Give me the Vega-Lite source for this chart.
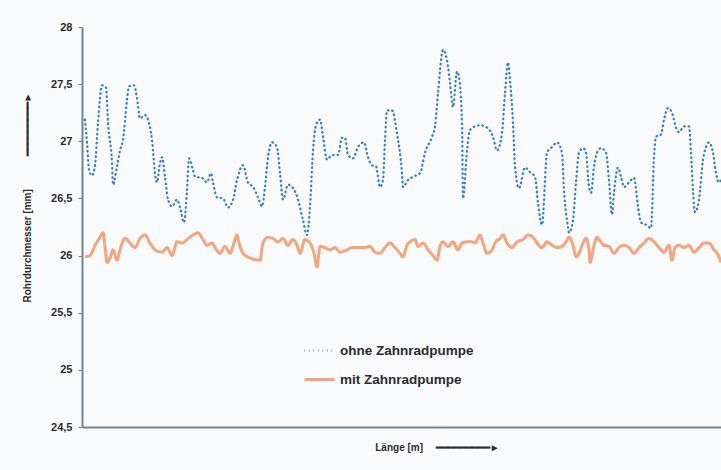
{
  "$schema": "https://vega.github.io/schema/vega-lite/v6.json",
  "width": 639,
  "height": 400,
  "autosize": {"type": "none"},
  "padding": {"left": 82, "top": 27, "right": 0, "bottom": 43},
  "background": "#fafbfd",
  "config": {
    "view": {"stroke": null},
    "font": "Liberation Sans"
  },
  "datasets": {
    "ohne": [
      {"x":3,"d":27.19},{"x":5,"d":26.99},{"x":7,"d":26.75},{"x":10,"d":26.70},{"x":13,"d":26.79},{"x":16,"d":27.16},{"x":20,"d":27.49},{"x":24,"d":27.47},{"x":26,"d":27.16},{"x":30,"d":26.81},{"x":31,"d":26.62},{"x":35,"d":26.78},{"x":38,"d":26.92},{"x":41,"d":27.01},{"x":45,"d":27.36},{"x":47,"d":27.48},{"x":52,"d":27.49},{"x":55,"d":27.38},{"x":58,"d":27.20},{"x":63,"d":27.23},{"x":66,"d":27.19},{"x":70,"d":27.01},{"x":73,"d":26.72},{"x":75,"d":26.64},{"x":78,"d":26.81},{"x":80,"d":26.86},{"x":83,"d":26.69},{"x":86,"d":26.49},{"x":90,"d":26.43},{"x":95,"d":26.49},{"x":98,"d":26.42},{"x":102,"d":26.29},{"x":105,"d":26.57},{"x":107,"d":26.85},{"x":111,"d":26.75},{"x":113,"d":26.69},{"x":120,"d":26.68},{"x":125,"d":26.64},{"x":129,"d":26.72},{"x":131,"d":26.64},{"x":135,"d":26.51},{"x":141,"d":26.50},{"x":146,"d":26.42},{"x":151,"d":26.49},{"x":155,"d":26.66},{"x":161,"d":26.79},{"x":166,"d":26.64},{"x":171,"d":26.60},{"x":176,"d":26.51},{"x":180,"d":26.43},{"x":183,"d":26.60},{"x":186,"d":26.86},{"x":190,"d":26.99},{"x":195,"d":26.95},{"x":198,"d":26.72},{"x":201,"d":26.49},{"x":206,"d":26.62},{"x":211,"d":26.59},{"x":216,"d":26.49},{"x":221,"d":26.31},{"x":225,"d":26.18},{"x":228,"d":26.43},{"x":231,"d":26.92},{"x":234,"d":27.14},{"x":238,"d":27.19},{"x":241,"d":27.04},{"x":245,"d":26.84},{"x":250,"d":26.88},{"x":256,"d":26.88},{"x":260,"d":27.03},{"x":263,"d":27.03},{"x":266,"d":26.88},{"x":271,"d":26.85},{"x":276,"d":26.95},{"x":282,"d":26.99},{"x":286,"d":26.86},{"x":290,"d":26.79},{"x":294,"d":26.78},{"x":298,"d":26.60},{"x":301,"d":26.66},{"x":303,"d":27.01},{"x":305,"d":27.27},{"x":310,"d":27.27},{"x":315,"d":27.07},{"x":320,"d":26.72},{"x":321,"d":26.60},{"x":326,"d":26.66},{"x":331,"d":26.69},{"x":338,"d":26.72},{"x":343,"d":26.90},{"x":350,"d":27.04},{"x":353,"d":27.13},{"x":356,"d":27.42},{"x":361,"d":27.80},{"x":365,"d":27.71},{"x":368,"d":27.51},{"x":371,"d":27.30},{"x":375,"d":27.61},{"x":377,"d":27.56},{"x":380,"d":27.16},{"x":381,"d":26.50},{"x":385,"d":26.92},{"x":388,"d":27.10},{"x":398,"d":27.14},{"x":405,"d":27.12},{"x":411,"d":27.04},{"x":415,"d":26.92},{"x":420,"d":27.07},{"x":423,"d":27.42},{"x":426,"d":27.69},{"x":428,"d":27.54},{"x":431,"d":27.16},{"x":433,"d":26.78},{"x":437,"d":26.59},{"x":443,"d":26.77},{"x":448,"d":26.73},{"x":453,"d":26.69},{"x":456,"d":26.46},{"x":460,"d":26.27},{"x":465,"d":26.90},{"x":470,"d":26.95},{"x":475,"d":26.99},{"x":480,"d":26.90},{"x":482,"d":26.57},{"x":486,"d":26.25},{"x":487,"d":26.20},{"x":491,"d":26.31},{"x":494,"d":26.64},{"x":497,"d":26.90},{"x":501,"d":26.94},{"x":504,"d":26.90},{"x":507,"d":26.60},{"x":509,"d":26.55},{"x":512,"d":26.78},{"x":515,"d":26.90},{"x":519,"d":26.94},{"x":524,"d":26.90},{"x":527,"d":26.66},{"x":530,"d":26.36},{"x":532,"d":26.55},{"x":536,"d":26.77},{"x":539,"d":26.69},{"x":542,"d":26.60},{"x":547,"d":26.64},{"x":552,"d":26.68},{"x":556,"d":26.43},{"x":559,"d":26.29},{"x":564,"d":26.27},{"x":569,"d":26.24},{"x":572,"d":26.86},{"x":574,"d":27.04},{"x":579,"d":27.06},{"x":582,"d":27.19},{"x":586,"d":27.29},{"x":590,"d":27.25},{"x":594,"d":27.12},{"x":597,"d":27.08},{"x":602,"d":27.13},{"x":607,"d":27.13},{"x":609,"d":26.90},{"x":611,"d":26.57},{"x":613,"d":26.38},{"x":617,"d":26.49},{"x":621,"d":26.84},{"x":624,"d":26.95},{"x":627,"d":26.99},{"x":631,"d":26.90},{"x":634,"d":26.72},{"x":637,"d":26.64},{"x":639,"d":26.66}
    ],
    "mit": [
      {"x":3,"d":25.99},{"x":8,"d":26.00},{"x":13,"d":26.09},{"x":18,"d":26.16},{"x":21,"d":26.20},{"x":23,"d":26.08},{"x":25,"d":25.94},{"x":29,"d":26.00},{"x":31,"d":26.05},{"x":35,"d":25.96},{"x":38,"d":26.05},{"x":43,"d":26.15},{"x":48,"d":26.11},{"x":53,"d":26.07},{"x":58,"d":26.15},{"x":63,"d":26.18},{"x":68,"d":26.11},{"x":73,"d":26.05},{"x":80,"d":26.03},{"x":85,"d":26.07},{"x":90,"d":26.00},{"x":95,"d":26.12},{"x":100,"d":26.11},{"x":105,"d":26.14},{"x":111,"d":26.18},{"x":116,"d":26.20},{"x":121,"d":26.14},{"x":125,"d":26.09},{"x":130,"d":26.11},{"x":133,"d":26.07},{"x":138,"d":26.02},{"x":143,"d":26.08},{"x":148,"d":26.02},{"x":152,"d":26.11},{"x":155,"d":26.18},{"x":157,"d":26.11},{"x":161,"d":26.02},{"x":168,"d":25.98},{"x":178,"d":25.96},{"x":181,"d":26.11},{"x":186,"d":26.16},{"x":191,"d":26.15},{"x":196,"d":26.12},{"x":201,"d":26.15},{"x":206,"d":26.09},{"x":211,"d":26.14},{"x":215,"d":26.09},{"x":218,"d":26.02},{"x":223,"d":26.14},{"x":228,"d":26.11},{"x":232,"d":26.02},{"x":235,"d":25.90},{"x":238,"d":26.08},{"x":243,"d":26.07},{"x":248,"d":26.05},{"x":253,"d":26.07},{"x":258,"d":26.03},{"x":265,"d":26.05},{"x":270,"d":26.07},{"x":276,"d":26.07},{"x":283,"d":26.07},{"x":288,"d":26.08},{"x":293,"d":26.03},{"x":298,"d":26.02},{"x":303,"d":26.07},{"x":308,"d":26.11},{"x":313,"d":26.07},{"x":318,"d":26.02},{"x":321,"d":25.99},{"x":325,"d":26.09},{"x":328,"d":26.12},{"x":333,"d":26.14},{"x":336,"d":26.08},{"x":341,"d":26.11},{"x":346,"d":26.05},{"x":351,"d":26.00},{"x":355,"d":25.96},{"x":358,"d":26.08},{"x":361,"d":26.12},{"x":366,"d":26.08},{"x":371,"d":26.12},{"x":376,"d":26.05},{"x":380,"d":26.11},{"x":385,"d":26.12},{"x":390,"d":26.12},{"x":393,"d":26.11},{"x":398,"d":26.18},{"x":401,"d":26.11},{"x":405,"d":26.02},{"x":410,"d":26.05},{"x":413,"d":26.11},{"x":418,"d":26.15},{"x":421,"d":26.18},{"x":425,"d":26.11},{"x":430,"d":26.07},{"x":435,"d":26.12},{"x":441,"d":26.14},{"x":446,"d":26.18},{"x":451,"d":26.16},{"x":455,"d":26.11},{"x":460,"d":26.07},{"x":465,"d":26.12},{"x":470,"d":26.09},{"x":475,"d":26.07},{"x":480,"d":26.08},{"x":484,"d":26.12},{"x":487,"d":26.16},{"x":491,"d":26.09},{"x":494,"d":25.99},{"x":497,"d":26.02},{"x":501,"d":26.11},{"x":504,"d":26.15},{"x":507,"d":26.05},{"x":508,"d":25.94},{"x":512,"d":26.09},{"x":515,"d":26.16},{"x":517,"d":26.14},{"x":522,"d":26.09},{"x":527,"d":26.08},{"x":532,"d":26.02},{"x":537,"d":26.07},{"x":542,"d":26.09},{"x":547,"d":26.07},{"x":552,"d":26.02},{"x":557,"d":26.07},{"x":562,"d":26.11},{"x":567,"d":26.15},{"x":572,"d":26.12},{"x":577,"d":26.07},{"x":582,"d":26.03},{"x":587,"d":26.09},{"x":590,"d":25.96},{"x":593,"d":26.07},{"x":597,"d":26.09},{"x":602,"d":26.07},{"x":607,"d":26.09},{"x":612,"d":26.03},{"x":617,"d":26.07},{"x":622,"d":26.11},{"x":627,"d":26.11},{"x":632,"d":26.05},{"x":637,"d":25.99},{"x":639,"d":25.94}
    ]
  },
  "layer": [
    {
      "data": {"name": "mit"},
      "mark": {"type": "line", "interpolate": "monotone", "color": "#f5a47e", "strokeWidth": 3},
      "encoding": {
        "x": {"field": "x", "type": "quantitative"},
        "y": {"field": "d", "type": "quantitative"},
        "color": {"datum": "mit Zahnradpumpe"},
        "strokeDash": {"datum": "mit Zahnradpumpe"},
        "strokeWidth": {"datum": "mit Zahnradpumpe"}
      }
    },
    {
      "data": {"name": "ohne"},
      "mark": {"type": "line", "interpolate": "monotone", "strokeCap": "round"},
      "encoding": {
        "x": {"field": "x", "type": "quantitative"},
        "y": {"field": "d", "type": "quantitative"},
        "color": {"datum": "ohne Zahnradpumpe"},
        "strokeDash": {"datum": "ohne Zahnradpumpe"},
        "strokeWidth": {"datum": "ohne Zahnradpumpe"}
      }
    }
  ],
  "encoding": {
    "x": {
      "field": "x", "type": "quantitative",
      "scale": {"domain": [0, 639], "nice": false, "zero": false},
      "axis": {
        "title": "Länge [m]\u2003\u00a0━━━━━━━━━►",
        "labels": false, "ticks": false, "grid": false,
        "domainColor": "#6b8796", "domainWidth": 2,
        "titleFont": "Liberation Sans", "titleFontSize": 10, "titleFontWeight": "bold", "titleColor": "#2b2b2b",
        "titleX": 355, "titleY": 20, "titleAlign": "center", "titleBaseline": "middle"
      }
    },
    "y": {
      "field": "d", "type": "quantitative",
      "scale": {"domain": [24.5, 28], "nice": false, "zero": false},
      "axis": {
        "values": [24.5, 25, 25.5, 26, 26.5, 27, 27.5, 28],
        "labelExpr": "replace(format(datum.value, '.1~f'), '.', ',')",
        "grid": false,
        "domainColor": "#6b8796", "domainWidth": 2,
        "tickColor": "#6b8796", "tickSize": 4, "tickWidth": 1,
        "labelFont": "Liberation Sans", "labelFontSize": 11, "labelFontWeight": "bold", "labelColor": "#2b2b2b", "labelPadding": 6,
        "title": "Rohrdurchmesser [mm]\u2003\u2003\u2003\u00a0━━━━━━━━━►",
        "titleFont": "Liberation Sans", "titleFontSize": 10, "titleFontWeight": "bold", "titleColor": "#2b2b2b",
        "titleX": -55, "titleY": 170, "titleAngle": -90, "titleAlign": "center", "titleBaseline": "middle"
      }
    },
    "color": {
      "type": "nominal",
      "scale": {"domain": ["ohne Zahnradpumpe", "mit Zahnradpumpe"], "range": ["#2f7bd6", "#f5a47e"]},
      "legend": {
        "title": null, "orient": "none", "legendX": 221, "legendY": 307,
        "symbolType": "stroke", "symbolSize": 900, "rowPadding": 6, "labelOffset": 4,
        "labelFont": "Liberation Sans", "labelFontSize": 13.5, "labelFontWeight": "bold", "labelColor": "#2b2b2b"
      }
    },
    "strokeDash": {
      "type": "nominal",
      "scale": {"domain": ["ohne Zahnradpumpe", "mit Zahnradpumpe"], "range": [[0.6, 3.9], [1, 0]]},
      "legend": null
    },
    "strokeWidth": {
      "type": "nominal",
      "scale": {"domain": ["ohne Zahnradpumpe", "mit Zahnradpumpe"], "range": [2.2, 3]},
      "legend": null
    }
  }
}
